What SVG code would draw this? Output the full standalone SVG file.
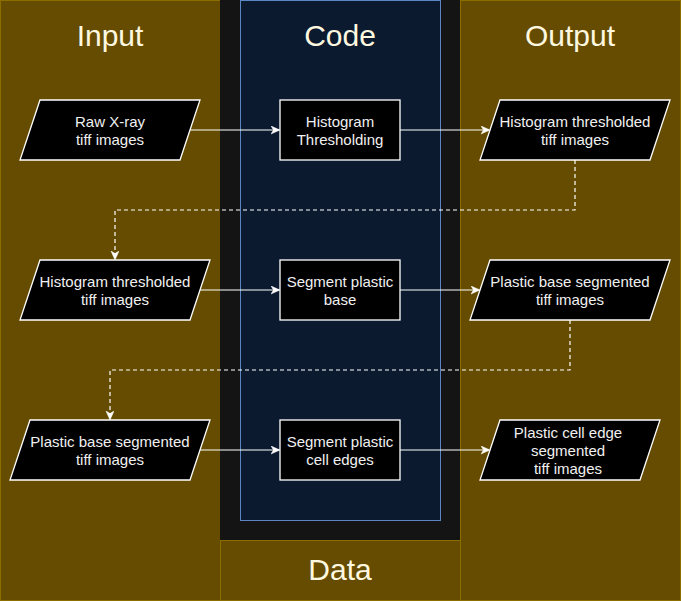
<svg xmlns="http://www.w3.org/2000/svg" width="681" height="601" viewBox="0 0 681 601">
<style>
.lane{fill:#654c00;stroke:#8c6d00;stroke-width:1}
.title{font-family:"Liberation Sans",Arial,sans-serif;font-size:30px;fill:#fff8e0;text-anchor:middle}
.node{fill:#000;stroke:#fff;stroke-width:1.3}
.lbl{font-family:"Liberation Sans",Arial,sans-serif;font-size:15px;fill:#f0f0f0;text-anchor:middle}
.conn{fill:none;stroke:#fff;stroke-width:1.2}
.dash{stroke-dasharray:4,3}
</style>
<defs>
<marker id="arr" markerWidth="10" markerHeight="10" refX="8" refY="4" orient="auto" markerUnits="userSpaceOnUse">
<path d="M0,0 L9,4 L0,8 L2.5,4 z" fill="#fff" stroke="#fff" stroke-width="0.5"/>
</marker>
</defs>
<g id="lanes">
<rect class="lane" x="0.5" y="0.5" width="220" height="600"/>
<rect x="220.5" y="0.5" width="240" height="540" fill="#141414" stroke="#141414"/>
<rect class="lane" x="220.5" y="540.5" width="240" height="60"/>
<rect class="lane" x="460.5" y="0.5" width="220" height="600"/>
<rect x="240.5" y="0.5" width="200" height="520" fill="#0b1a2e" stroke="#5a86c4" stroke-width="1"/>
<text class="title" x="110" y="46">Input</text>
<text class="title" x="340" y="46">Code</text>
<text class="title" x="570" y="46">Output</text>
<text class="title" x="340" y="580">Data</text>
</g>
<g id="connectors">
<path class="conn" d="M190,130 L279,130" marker-end="url(#arr)"/>
<path class="conn" d="M400,130 L489,130" marker-end="url(#arr)"/>
<path class="conn dash" d="M575,160 L575,210 L115,210 L115,259" marker-end="url(#arr)"/>
<path class="conn" d="M200,290 L279,290" marker-end="url(#arr)"/>
<path class="conn" d="M400,290 L479,290" marker-end="url(#arr)"/>
<path class="conn dash" d="M570,320 L570,370 L110,370 L110,419" marker-end="url(#arr)"/>
<path class="conn" d="M200,450 L279,450" marker-end="url(#arr)"/>
<path class="conn" d="M400,450 L489,450" marker-end="url(#arr)"/>
</g>
<g id="in1">
<polygon class="node" points="40,100 200,100 180,160 20,160"/>
<text class="lbl" x="110" y="127">Raw X-ray</text>
<text class="lbl" x="110" y="145">tiff images</text>
</g>
<g id="code1">
<rect class="node" x="280" y="100" width="120" height="60"/>
<text class="lbl" x="340" y="127">Histogram</text>
<text class="lbl" x="340" y="145">Thresholding</text>
</g>
<g id="out1">
<polygon class="node" points="500,100 670,100 650,160 480,160"/>
<text class="lbl" x="575" y="127">Histogram thresholded</text>
<text class="lbl" x="575" y="145">tiff images</text>
</g>
<g id="in2">
<polygon class="node" points="40,260 210,260 190,320 20,320"/>
<text class="lbl" x="115" y="287">Histogram thresholded</text>
<text class="lbl" x="115" y="305">tiff images</text>
</g>
<g id="code2">
<rect class="node" x="280" y="260" width="120" height="60"/>
<text class="lbl" x="340" y="287">Segment plastic</text>
<text class="lbl" x="340" y="305">base</text>
</g>
<g id="out2">
<polygon class="node" points="490,260 670,260 650,320 470,320"/>
<text class="lbl" x="570" y="287">Plastic base segmented</text>
<text class="lbl" x="570" y="305">tiff images</text>
</g>
<g id="in3">
<polygon class="node" points="30,420 210,420 190,480 10,480"/>
<text class="lbl" x="110" y="447">Plastic base segmented</text>
<text class="lbl" x="110" y="465">tiff images</text>
</g>
<g id="code3">
<rect class="node" x="280" y="420" width="120" height="60"/>
<text class="lbl" x="340" y="447">Segment plastic</text>
<text class="lbl" x="340" y="465">cell edges</text>
</g>
<g id="out3">
<polygon class="node" points="500,420 660,420 640,480 480,480"/>
<text class="lbl" x="568" y="438">Plastic cell edge</text>
<text class="lbl" x="568" y="456">segmented</text>
<text class="lbl" x="568" y="474">tiff images</text>
</g>
</svg>
